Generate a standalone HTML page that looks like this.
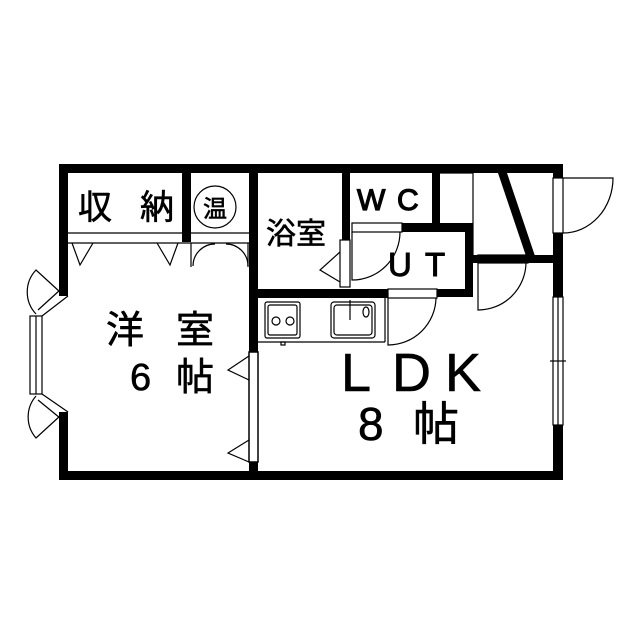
<!DOCTYPE html>
<html><head><meta charset="utf-8"><style>
html,body{margin:0;padding:0;background:#fff}
svg{display:block}
text{font-family:"Liberation Sans","Noto Sans CJK JP",sans-serif;fill:#000}
</style></head><body>
<svg width="639" height="640" viewBox="0 0 639 640" xmlns="http://www.w3.org/2000/svg">
<rect width="639" height="640" fill="#fff"/>
<g fill="#000">
<rect x="59" y="164" width="504" height="9"/>
<rect x="59" y="471" width="504" height="9"/>
<rect x="59" y="164" width="9" height="132"/>
<rect x="59" y="412" width="9" height="68"/>
<rect x="553" y="164" width="10" height="14"/>
<rect x="553" y="233" width="10" height="64"/>
<rect x="553" y="425" width="10" height="55"/>
<rect x="182" y="173" width="9" height="69"/>
<rect x="249" y="173" width="9" height="179"/>
<rect x="249" y="462" width="9" height="12"/>
<rect x="258" y="289" width="130" height="9"/>
<rect x="437" y="289" width="36" height="8"/>
<rect x="342" y="173" width="8" height="67"/>
<rect x="402" y="223" width="71" height="9"/>
<rect x="432" y="173" width="8" height="50"/>
<rect x="465" y="223" width="8" height="74"/>
<rect x="473" y="255" width="90" height="8"/>
<polygon points="498,173 507,173 535,256 526,256"/>
</g>
<g fill="none" stroke="#000" stroke-width="1.2">
<line x1="68" y1="233" x2="249" y2="233"/>
<line x1="68" y1="243" x2="249" y2="243"/>
<polyline points="72,243 80,265 93,243"/>
<polyline points="157,243 170,265 178,243"/>
<path d="M193,266 A22,22 0 0 1 215,244"/>
<path d="M248,266 A22,22 0 0 0 226,244"/>
<line x1="191" y1="243" x2="191" y2="267"/>
<line x1="248" y1="243" x2="248" y2="267"/>
<circle cx="215" cy="207" r="21"/>
<rect x="249" y="352" width="9" height="110" stroke-width="1.5"/>
<polyline points="249,356 228,370 249,380"/>
<polyline points="249,440 228,453 249,462"/>
<rect x="30" y="316" width="12" height="78"/>
<line x1="36" y1="316" x2="36" y2="394"/>
<line x1="68" y1="296" x2="42" y2="316"/>
<line x1="60" y1="290" x2="38" y2="310"/>
<line x1="68" y1="412" x2="42" y2="394"/>
<line x1="60" y1="418" x2="38" y2="400"/>
<path d="M60,292 L36,270 A32,32 0 0 0 36,314"/>
<path d="M60,416 L36,438 A32,32 0 0 1 36,396"/>
<rect x="340" y="240" width="10" height="47"/>
<polyline points="340,252 320,270 340,282"/>
<rect x="352" y="223" width="50" height="9"/>
<path d="M352,232 L352,280 A48,48 0 0 0 400,232"/>
<line x1="440" y1="173" x2="473" y2="173"/>
<line x1="473" y1="173" x2="473" y2="255"/>
<rect x="478" y="255" width="50" height="8"/>
<path d="M478,263 L478,310 A48,48 0 0 0 526,263"/>
<rect x="388" y="289" width="49" height="9"/>
<path d="M388,298 L388,345 A48,48 0 0 0 436,298"/>
<rect x="553" y="178" width="10" height="55"/>
<path d="M563,178 L613,178 A50,55 0 0 1 563,233"/>
<rect x="553" y="297" width="10" height="128"/>
<line x1="558" y1="297" x2="558" y2="425"/>
<line x1="550" y1="361" x2="566" y2="361"/>
<line x1="258" y1="342" x2="385" y2="342"/>
<line x1="385" y1="298" x2="385" y2="342"/>
<rect x="265" y="302" width="35" height="36" rx="2"/>
<rect x="268" y="305" width="29" height="30" rx="2"/>
<circle cx="276" cy="321" r="4"/><circle cx="290" cy="321" r="4"/>
<rect x="281" y="342" width="4" height="3"/>
<rect x="331" y="302" width="44" height="36" rx="3"/>
<rect x="334" y="305" width="38" height="30" rx="3"/>
<line x1="350" y1="300" x2="350" y2="320"/>
<ellipse cx="366" cy="312" rx="3" ry="5"/>
</g>
<g stroke="#000" stroke-width="0.6">
<text x="78" y="219" font-size="34">収</text>
<text x="140" y="219" font-size="34">納</text>
<text x="215" y="217" font-size="24" text-anchor="middle">温</text>
<text x="266" y="244" font-size="30">浴室</text>
<text x="357" y="210" font-size="30" stroke-width="1.2">W</text>
<text x="397" y="210" font-size="30" stroke-width="1.2">C</text>
<text x="388" y="276" font-size="33" stroke-width="1">U</text>
<text x="425" y="276" font-size="33" stroke-width="1">T</text>
<text x="106" y="343" font-size="38">洋</text>
<text x="176" y="343" font-size="38">室</text>
<text x="130" y="390" font-size="38">6</text>
<text x="176" y="390" font-size="38">帖</text>
<text x="341" y="391" font-size="54">L</text>
<text x="392" y="391" font-size="54">D</text>
<text x="445" y="391" font-size="54">K</text>
<text x="358" y="440" font-size="46">8</text>
<text x="413" y="440" font-size="46">帖</text>
</g>
</svg>
</body></html>
